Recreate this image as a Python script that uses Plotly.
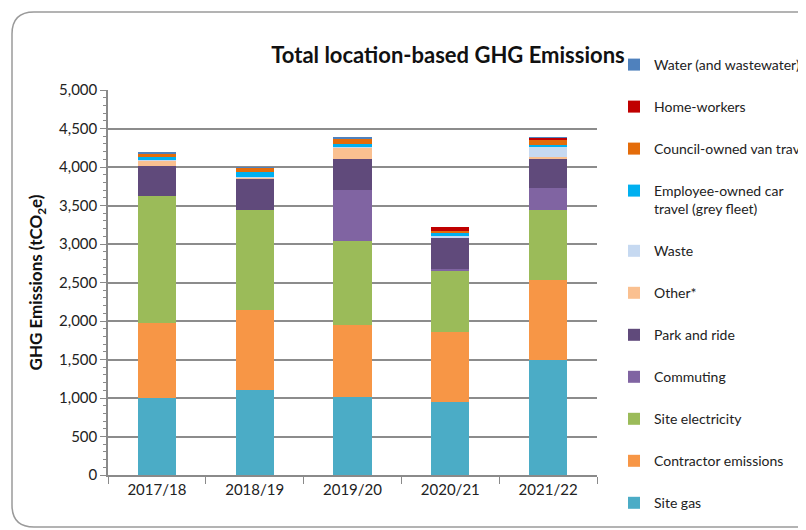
import plotly.graph_objects as go

# ------------------------------------------------------ #
#                        Data                            #
# ------------------------------------------------------ #
years = ["2017/18", "2018/19", "2019/20", "2020/21", "2021/22"]

site_gas = [1000, 1100, 1010, 950, 1490]
contractor = [980, 1040, 935, 907, 1042]
site_electricity = [1640, 1300, 1095, 795, 908]
commuting = [0, 0, 663, 22, 284]
park_and_ride = [390, 405, 397, 404, 380]
other = [70, 25, 156, 5, 26]
waste = [5, 5, 5, 21, 135]
employee_car = [45, 55, 43, 35, 26]
van_travel = [45, 65, 61, 26, 61]
home_workers = [5, 0, 5, 60, 26]
water = [5, 5, 15, 0, 5]

y_ticks = [0, 500, 1000, 1500, 2000, 2500, 3000, 3500, 4000, 4500, 5000]

# bottom -> top of the stack
series = [
    ("Site gas", site_gas, "#4BACC6"),
    ("Contractor emissions", contractor, "#F79646"),
    ("Site electricity", site_electricity, "#9BBB59"),
    ("Commuting", commuting, "#8064A2"),
    ("Park and ride", park_and_ride, "#604A7B"),
    ("Other*", other, "#FAC090"),
    ("Waste", waste, "#C6D9F1"),
    ("Employee-owned car<br>travel (grey fleet)", employee_car, "#00B0F0"),
    ("Council-owned van travel", van_travel, "#E46C0A"),
    ("Home-workers", home_workers, "#C00000"),
    ("Water (and wastewater)", water, "#4F81BD"),
]

# ------------------------------------------------------ #
#                       Layout                           #
# ------------------------------------------------------ #
# the page adds an 8px body margin, so the figure is 8px smaller
# and every screen position is shifted by OFF
OFF = 8
W, H = 806 - OFF, 530 - OFF
L, R, T, B = 108 - OFF, 806 - 597, 90 - OFF, 530 - 475
FONT = "Lato, Open Sans, sans-serif"


def px_x(p):
    return (p - OFF - L) / (W - L - R)


def px_y(p):
    return (H - B - (p - OFF)) / (H - T - B)


fig = go.Figure()
for i, (name, vals, color) in enumerate(series):
    fig.add_trace(go.Bar(
        x=years, y=vals, name=name,
        marker_color=color, marker_line_width=0,
        legendgroup=name, legendrank=1000 - i,
    ))

# rounded outer frame of the chart
x0, x1 = px_x(12), px_x(830)
y0, y1 = px_y(527), px_y(12)
rx, ry = px_x(12 + 22) - x0, px_y(12) - px_y(12 + 22)
frame_path = (f"M {x0 + rx},{y1} L {x1},{y1} L {x1},{y0} L {x0 + rx},{y0} "
              f"Q {x0},{y0} {x0},{y0 + ry} L {x0},{y1 - ry} Q {x0},{y1} {x0 + rx},{y1} Z")
fig.add_shape(type="path", path=frame_path, xref="paper", yref="paper",
              line=dict(color="#9a9a9a", width=1.5), layer="below")

fig.update_layout(
    width=W, height=H,
    margin=dict(l=L, r=R, t=T, b=B, autoexpand=False),
    barmode="stack",
    bargap=0.61,
    paper_bgcolor="white",
    plot_bgcolor="white",
    font=dict(family=FONT, color="#222222"),
    title=dict(
        text="<b>Total location-based GHG Emissions</b>",
        x=px_x(448), xref="paper", xanchor="center",
        y=1 - (55 - OFF) / H, yref="container", yanchor="middle",
        font=dict(size=22, color="#111111", family=FONT),
    ),
    legend=dict(
        x=px_x(614), y=px_y(49), xanchor="left", yanchor="top",
        traceorder="grouped", tracegroupgap=20.8,
        font=dict(size=14, color="#222222", family=FONT),
        itemwidth=30, valign="top", maxheight=600,
        bgcolor="rgba(0,0,0,0)",
    ),
    xaxis=dict(
        showline=True, linecolor="#8a8a8a", linewidth=1.5,
        ticks="outside", tickson="boundaries", ticklen=7, tickcolor="#8a8a8a",
        tickfont=dict(size=15, color="#222222"),
        showgrid=False,
    ),
    yaxis=dict(
        range=[0, 5000], tickvals=y_ticks, tickformat=",d",
        showline=True, linecolor="#8a8a8a", linewidth=1.5,
        ticks="outside", ticklen=6, tickcolor="#8a8a8a",
        minor=dict(dtick=100, ticks="outside", ticklen=3, tickcolor="#8a8a8a", showgrid=False),
        gridcolor="#8c8c8c", gridwidth=1.5,
        tickfont=dict(size=15, color="#222222"),
        title=dict(text="<b>GHG Emissions (tCO<sub>2</sub>e)</b>",
                   font=dict(size=17, color="#111111"), standoff=12),
        zeroline=False,
    ),
)

fig.write_html("out.html")
